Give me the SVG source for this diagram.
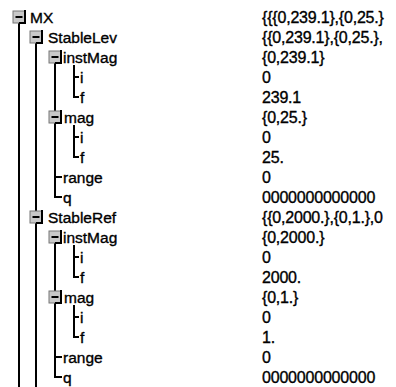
<svg xmlns="http://www.w3.org/2000/svg" width="396" height="387" viewBox="0 0 396 387">
<style>
text{font-family:"Liberation Sans",Arial,sans-serif;fill:#000;stroke:#000;stroke-width:0.35}
.lbl{font-size:15.5px}
.val{font-size:16px;letter-spacing:-0.2px}
.box{fill:#c8c8c8;stroke:#777;stroke-width:1}
.mn{stroke:#000;stroke-width:2;fill:none}
.ln{stroke:#000;stroke-width:2;fill:none}
</style>
<defs>
<g id="exp">
<rect class="box" x="-6" y="-6" width="12" height="12"/>
<path class="mn" d="M-3.5,0H3.5M6,-7V6H0"/>
</g>
</defs>
<rect width="396" height="387" fill="#fff"/>
<g id="connectors">
<path class="ln" d="M19,23V387"/>
<path class="ln" d="M36,43V387"/>
<path class="ln" d="M55,63V197H62M55,177H62"/>
<path class="ln" d="M74,65V97H79M74,77H79"/>
<path class="ln" d="M74,125V157H79M74,137H79"/>
<path class="ln" d="M55,243V377H62M55,357H62"/>
<path class="ln" d="M74,245V277H79M74,257H79"/>
<path class="ln" d="M74,305V337H79M74,317H79"/>
</g>
<g id="n-MX"><use href="#exp" x="19" y="17"/><text class="lbl" x="30" y="22.5">MX</text><text class="val" x="262" y="22.5">{{{0,239.1},{0,25.}</text></g>
<g id="n-StableLev"><use href="#exp" x="36" y="37"/><text class="lbl" x="48" y="42.5">StableLev</text><text class="val" x="262" y="42.5">{{0,239.1},{0,25.},</text></g>
<g id="n-instMag1"><use href="#exp" x="55" y="57"/><text class="lbl" x="63" y="62.5">instMag</text><text class="val" x="262" y="62.5">{0,239.1}</text></g>
<g id="n-i1"><text class="lbl" x="80" y="82.5">i</text><text class="val" x="262" y="82.5">0</text></g>
<g id="n-f1"><text class="lbl" x="80" y="102.5">f</text><text class="val" x="262" y="102.5">239.1</text></g>
<g id="n-mag1"><use href="#exp" x="55" y="117"/><text class="lbl" x="64" y="122.5">mag</text><text class="val" x="262" y="122.5">{0,25.}</text></g>
<g id="n-i2"><text class="lbl" x="80" y="142.5">i</text><text class="val" x="262" y="142.5">0</text></g>
<g id="n-f2"><text class="lbl" x="80" y="162.5">f</text><text class="val" x="262" y="162.5">25.</text></g>
<g id="n-range1"><text class="lbl" x="63" y="182.5">range</text><text class="val" x="262" y="182.5">0</text></g>
<g id="n-q1"><text class="lbl" x="63" y="202.5">q</text><text class="val" x="262" y="202.5">0000000000000</text></g>
<g id="n-StableRef"><use href="#exp" x="36" y="217"/><text class="lbl" x="48" y="222.5">StableRef</text><text class="val" x="262" y="222.5">{{0,2000.},{0,1.},0</text></g>
<g id="n-instMag2"><use href="#exp" x="55" y="237"/><text class="lbl" x="63" y="242.5">instMag</text><text class="val" x="262" y="242.5">{0,2000.}</text></g>
<g id="n-i3"><text class="lbl" x="80" y="262.5">i</text><text class="val" x="262" y="262.5">0</text></g>
<g id="n-f3"><text class="lbl" x="80" y="282.5">f</text><text class="val" x="262" y="282.5">2000.</text></g>
<g id="n-mag2"><use href="#exp" x="55" y="297"/><text class="lbl" x="64" y="302.5">mag</text><text class="val" x="262" y="302.5">{0,1.}</text></g>
<g id="n-i4"><text class="lbl" x="80" y="322.5">i</text><text class="val" x="262" y="322.5">0</text></g>
<g id="n-f4"><text class="lbl" x="80" y="342.5">f</text><text class="val" x="262" y="342.5">1.</text></g>
<g id="n-range2"><text class="lbl" x="63" y="362.5">range</text><text class="val" x="262" y="362.5">0</text></g>
<g id="n-q2"><text class="lbl" x="63" y="382.5">q</text><text class="val" x="262" y="382.5">0000000000000</text></g>
</svg>
